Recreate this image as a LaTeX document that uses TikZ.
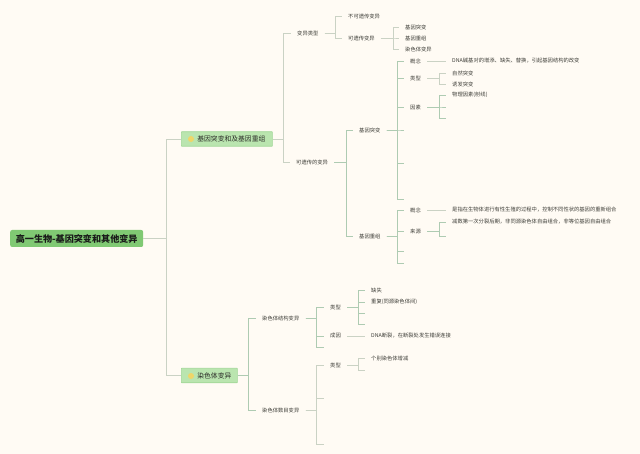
\documentclass[tikz,border=0pt]{standalone}
\usepackage{fontspec}
\usepackage{xcolor}
\setmainfont{Noto Sans CJK SC}
\begin{document}
\begin{tikzpicture}[x=1pt,y=-1pt,
  leaf/.style={anchor=west,inner xsep=6pt,inner ysep=1pt,font=\fontsize{5.3}{6}\selectfont,text=textgrey},
  branch/.style={anchor=west,draw=branchline,fill=branchfill,rounded corners=0.5pt,line width=0.7pt,minimum height=14.5pt,inner sep=0pt,font=\fontsize{6.8}{8}\selectfont,text=textgrey!70!black},
  rootbox/.style={anchor=west,fill=rootfill,rounded corners=2pt,minimum height=17pt,inner sep=0pt,text width=133pt,align=center,font=\fontsize{9.1}{11}\selectfont\bfseries,text=black!90},
  bulb/.style={circle,fill=bulbfill,minimum size=6pt,inner sep=0pt},
  link/.style={draw=linkgreen,line width=0.6pt},
  linkpale/.style={draw=linkpalegrey,line width=0.6pt},
  elbow/.style={to path={(\tikztostart.east) -- ++(#1,0) |- (\tikztotarget)}},
  elbow/.default=11]
\definecolor{paper}{HTML}{FFFBF4}
\definecolor{textgrey}{HTML}{3E3E38}
\definecolor{branchline}{HTML}{A0D796}
\definecolor{branchfill}{HTML}{BAE5AF}
\definecolor{rootfill}{HTML}{80C973}
\definecolor{bulbfill}{HTML}{EFD668}
\definecolor{linkgreen}{HTML}{AECBB2}
\definecolor{linkpalegrey}{HTML}{CAD2C4}
\fill[paper] (0,0) rectangle (640,454);
\useasboundingbox (0,0) rectangle (640,454);
% root and the two big branches
\node[rootbox] (root) at (10,238.5) {高一生物-基因突变和其他变异};
\node[branch,minimum width=91pt] (mutbox) at (181,139) {\hspace*{16pt}基因突变和及基因重组\hspace*{7pt}};
\node[branch,minimum width=56pt] (chrbox) at (181,375.5) {\hspace*{16pt}染色体变异\hspace*{6pt}};
\node[bulb] (mutbulb) at (191,139) {};
\node[bulb] (chrbulb) at (191,376) {};
% all the labels, x is the left end of the box
\foreach \nm/\px/\py/\txt in {
  kind/291/33/变异类型, nohered/342/16/不可遗传变异, hered/342/38/可遗传变异,
  genmut/399/27/基因突变, genrec/399/38/基因重组, chrvar/399/49/染色体变异,
  heredb/290/162/可遗传的变异,
  mut/353/130/基因突变, mutdef/404/61/概念, muttype/404/78/类型, mutcause/404/107/因素,
  mutdefx/446/61/DNA碱基对的增添、缺失、替换，引起基因结构的改变,
  natural/446/73/自然突变, induced/446/84/诱发突变, physical/446/95/物理因素(射线),
  rec/353/236/基因重组, recdef/404/210/概念, recsrc/404/231/来源,
  recdefx/446/210/是指在生物体进行有性生殖的过程中，控制不同性状的基因的重新组合,
  recsrcx/446/222/减数第一次分裂后期，非同源染色体自由组合，非等位基因自由组合,
  struct/256/318/染色体结构变异, stype/324/307/类型, scause/324/336/成因,
  loss/365/290/缺失, dup/365/302/重复(同源染色体间),
  scausex/365/336/DNA断裂，在断裂处发生错误连接,
  number/256/410/染色体数目变异, ntype/324/365/类型, single/365/358/个别染色体增减}
  {\node[leaf] (\nm) at (\px,\py) {\txt};}
% free ends with no text
\foreach \nm/\px/\py in {
  phyb/446/107, phyc/446/118,
  muta/404/130, mutb/404/163, mutc/404/199,
  reca/404/251, recb/404/263, srcb/446/236,
  stypec/365/313, styped/365/324, structc/324/347,
  singleb/365/370, numb/324/398, numc/324/444}
  {\coordinate (\nm) at (\px,\py);}
% connectors
\foreach \kid in {mutbox,chrbox} {\draw[linkpale] (root) to[elbow=23] (\kid);}
\foreach \kid in {kind,heredb} {\draw[linkpale] (mutbox) to[elbow] (\kid);}
\foreach \kid in {struct,number} {\draw[link] (chrbox) to[elbow] (\kid);}
\foreach \kid in {nohered,hered} {\draw[linkpale] (kind) to[elbow] (\kid);}
\foreach \kid in {genmut,genrec,chrvar} {\draw[linkpale] (hered) to[elbow=12] (\kid);}
\foreach \kid in {mut,rec} {\draw[link] (heredb) to[elbow=12] (\kid);}
\foreach \kid in {mutdef,muttype,mutcause,muta,mutb,mutc} {\draw[link] (mut) to[elbow] (\kid);}
\foreach \kid in {natural,induced} {\draw[linkpale] (muttype) to[elbow=12] (\kid);}
\foreach \kid in {physical,phyb,phyc} {\draw[link] (mutcause) to[elbow=12] (\kid);}
\foreach \kid in {recdef,recsrc,reca,recb} {\draw[link] (rec) to[elbow] (\kid);}
\foreach \kid in {recsrcx,srcb} {\draw[link] (recsrc) to[elbow=12] (\kid);}
\foreach \kid in {stype,scause,structc} {\draw[link] (struct) to[elbow=11] (\kid);}
\foreach \kid in {loss,dup,stypec,styped} {\draw[link] (stype) to[elbow] (\kid);}
\foreach \kid in {ntype,numb,numc} {\draw[linkpale] (number) to[elbow=11] (\kid);}
\foreach \kid in {single,singleb} {\draw[linkpale] (ntype) to[elbow] (\kid);}
\draw[linkpale] (mutdef) -- (mutdefx);
\draw[linkpale] (recdef) -- (recdefx);
\draw[linkpale] (scause) -- (scausex);
\end{tikzpicture}
\end{document}
